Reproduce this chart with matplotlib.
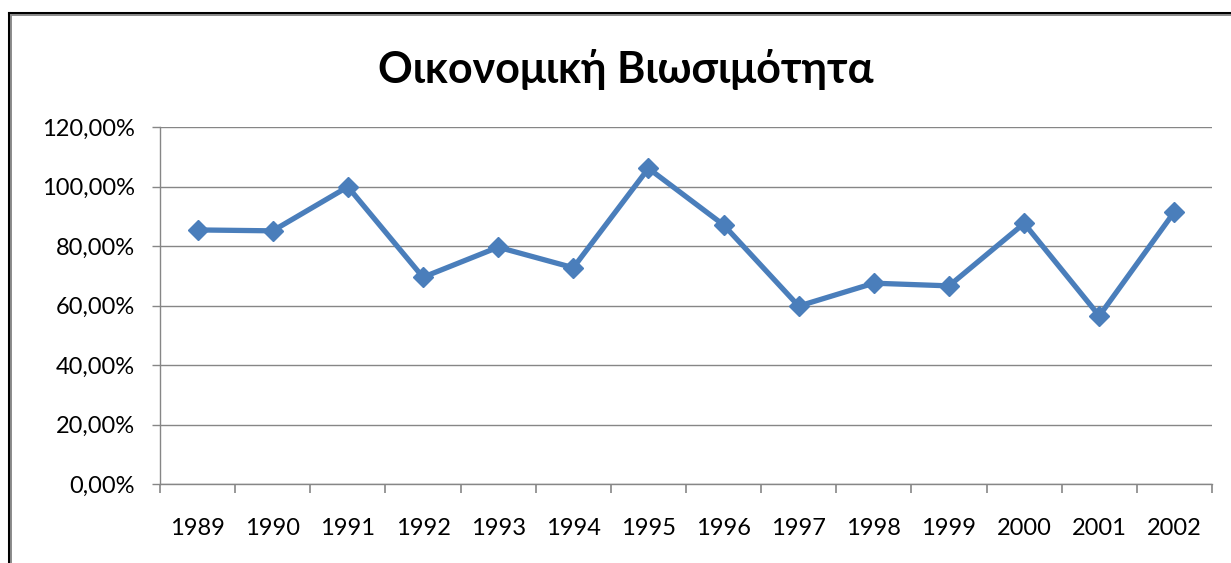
import matplotlib
matplotlib.use("Agg")
import matplotlib.pyplot as plt
from matplotlib.lines import Line2D
from matplotlib.ticker import FuncFormatter, MultipleLocator

years = ["1989", "1990", "1991", "1992", "1993", "1994", "1995",
         "1996", "1997", "1998", "1999", "2000", "2001", "2002"]
values = [85.5, 85.2, 100.0, 69.6, 79.7, 72.8, 106.2,
          87.2, 59.9, 67.6, 66.7, 87.7, 56.6, 91.6]
title = "Οικονομική Βιωσιμότητα"

plt.rcParams['font.family'] = ['Lato', 'DejaVu Sans']

W, H = 1231, 563
fig = plt.figure(figsize=(W / 100, H / 100), dpi=100)
fig.patch.set_facecolor("white")

L, R, T, B = 160, 1212, 127.3, 484.3
ax = fig.add_axes([L / W, 1 - B / H, (R - L) / W, (B - T) / H])

x = list(range(len(years)))
ax.plot(x, values, color="#4A7EBB", lw=3.8, marker="D", ms=10,
        mec="#4A7EBB", mfc="#4A7EBB", zorder=3, solid_joinstyle="miter")

ax.set_xlim(-0.5, len(years) - 0.5)
ax.set_ylim(0, 120)
ax.yaxis.set_major_locator(MultipleLocator(20))
ax.yaxis.set_major_formatter(FuncFormatter(lambda v, p: f"{v:.2f}%".replace(".", ",")))
ax.set_xticks(x)
ax.set_xticklabels(years)
ax.set_xticks([i - 0.5 for i in range(len(years) + 1)], minor=True)

ax.grid(axis="y", color="#868686", lw=1.0)
ax.set_axisbelow(True)
for s in ["top", "right"]:
    ax.spines[s].set_visible(False)
for s in ["left", "bottom"]:
    ax.spines[s].set_color("#868686")
    ax.spines[s].set_linewidth(1.0)

ax.tick_params(axis="x", which="major", length=0, pad=24.5, labelsize=17, labelcolor="black")
ax.tick_params(axis="x", which="minor", length=6.5, width=1.2, color="#868686", direction="out")
ax.tick_params(axis="y", length=6, width=1.0, color="#868686", pad=12, labelsize=17, labelcolor="black")

fig.text(626 / W, 1 - 69 / H, title, ha="center", va="center",
         fontsize=31, fontweight="bold", color="black")

# chart frame (left and top visible)
fig.add_artist(Line2D([8.5 / W, 8.5 / W], [0, 1 - 12.5 / H], color="black", lw=2.2, transform=fig.transFigure))
fig.add_artist(Line2D([8.5 / W, 1], [1 - 12.5 / H, 1 - 12.5 / H], color="black", lw=2.2, transform=fig.transFigure))
fig.add_artist(Line2D([10.5 / W, 10.5 / W], [0, 1 - 14.5 / H], color="#8c8c8c", lw=1.4, transform=fig.transFigure))
fig.add_artist(Line2D([10.5 / W, 1], [1 - 14.5 / H, 1 - 14.5 / H], color="#8c8c8c", lw=1.4, transform=fig.transFigure))

fig.savefig("out.png", dpi=100, facecolor="white")
